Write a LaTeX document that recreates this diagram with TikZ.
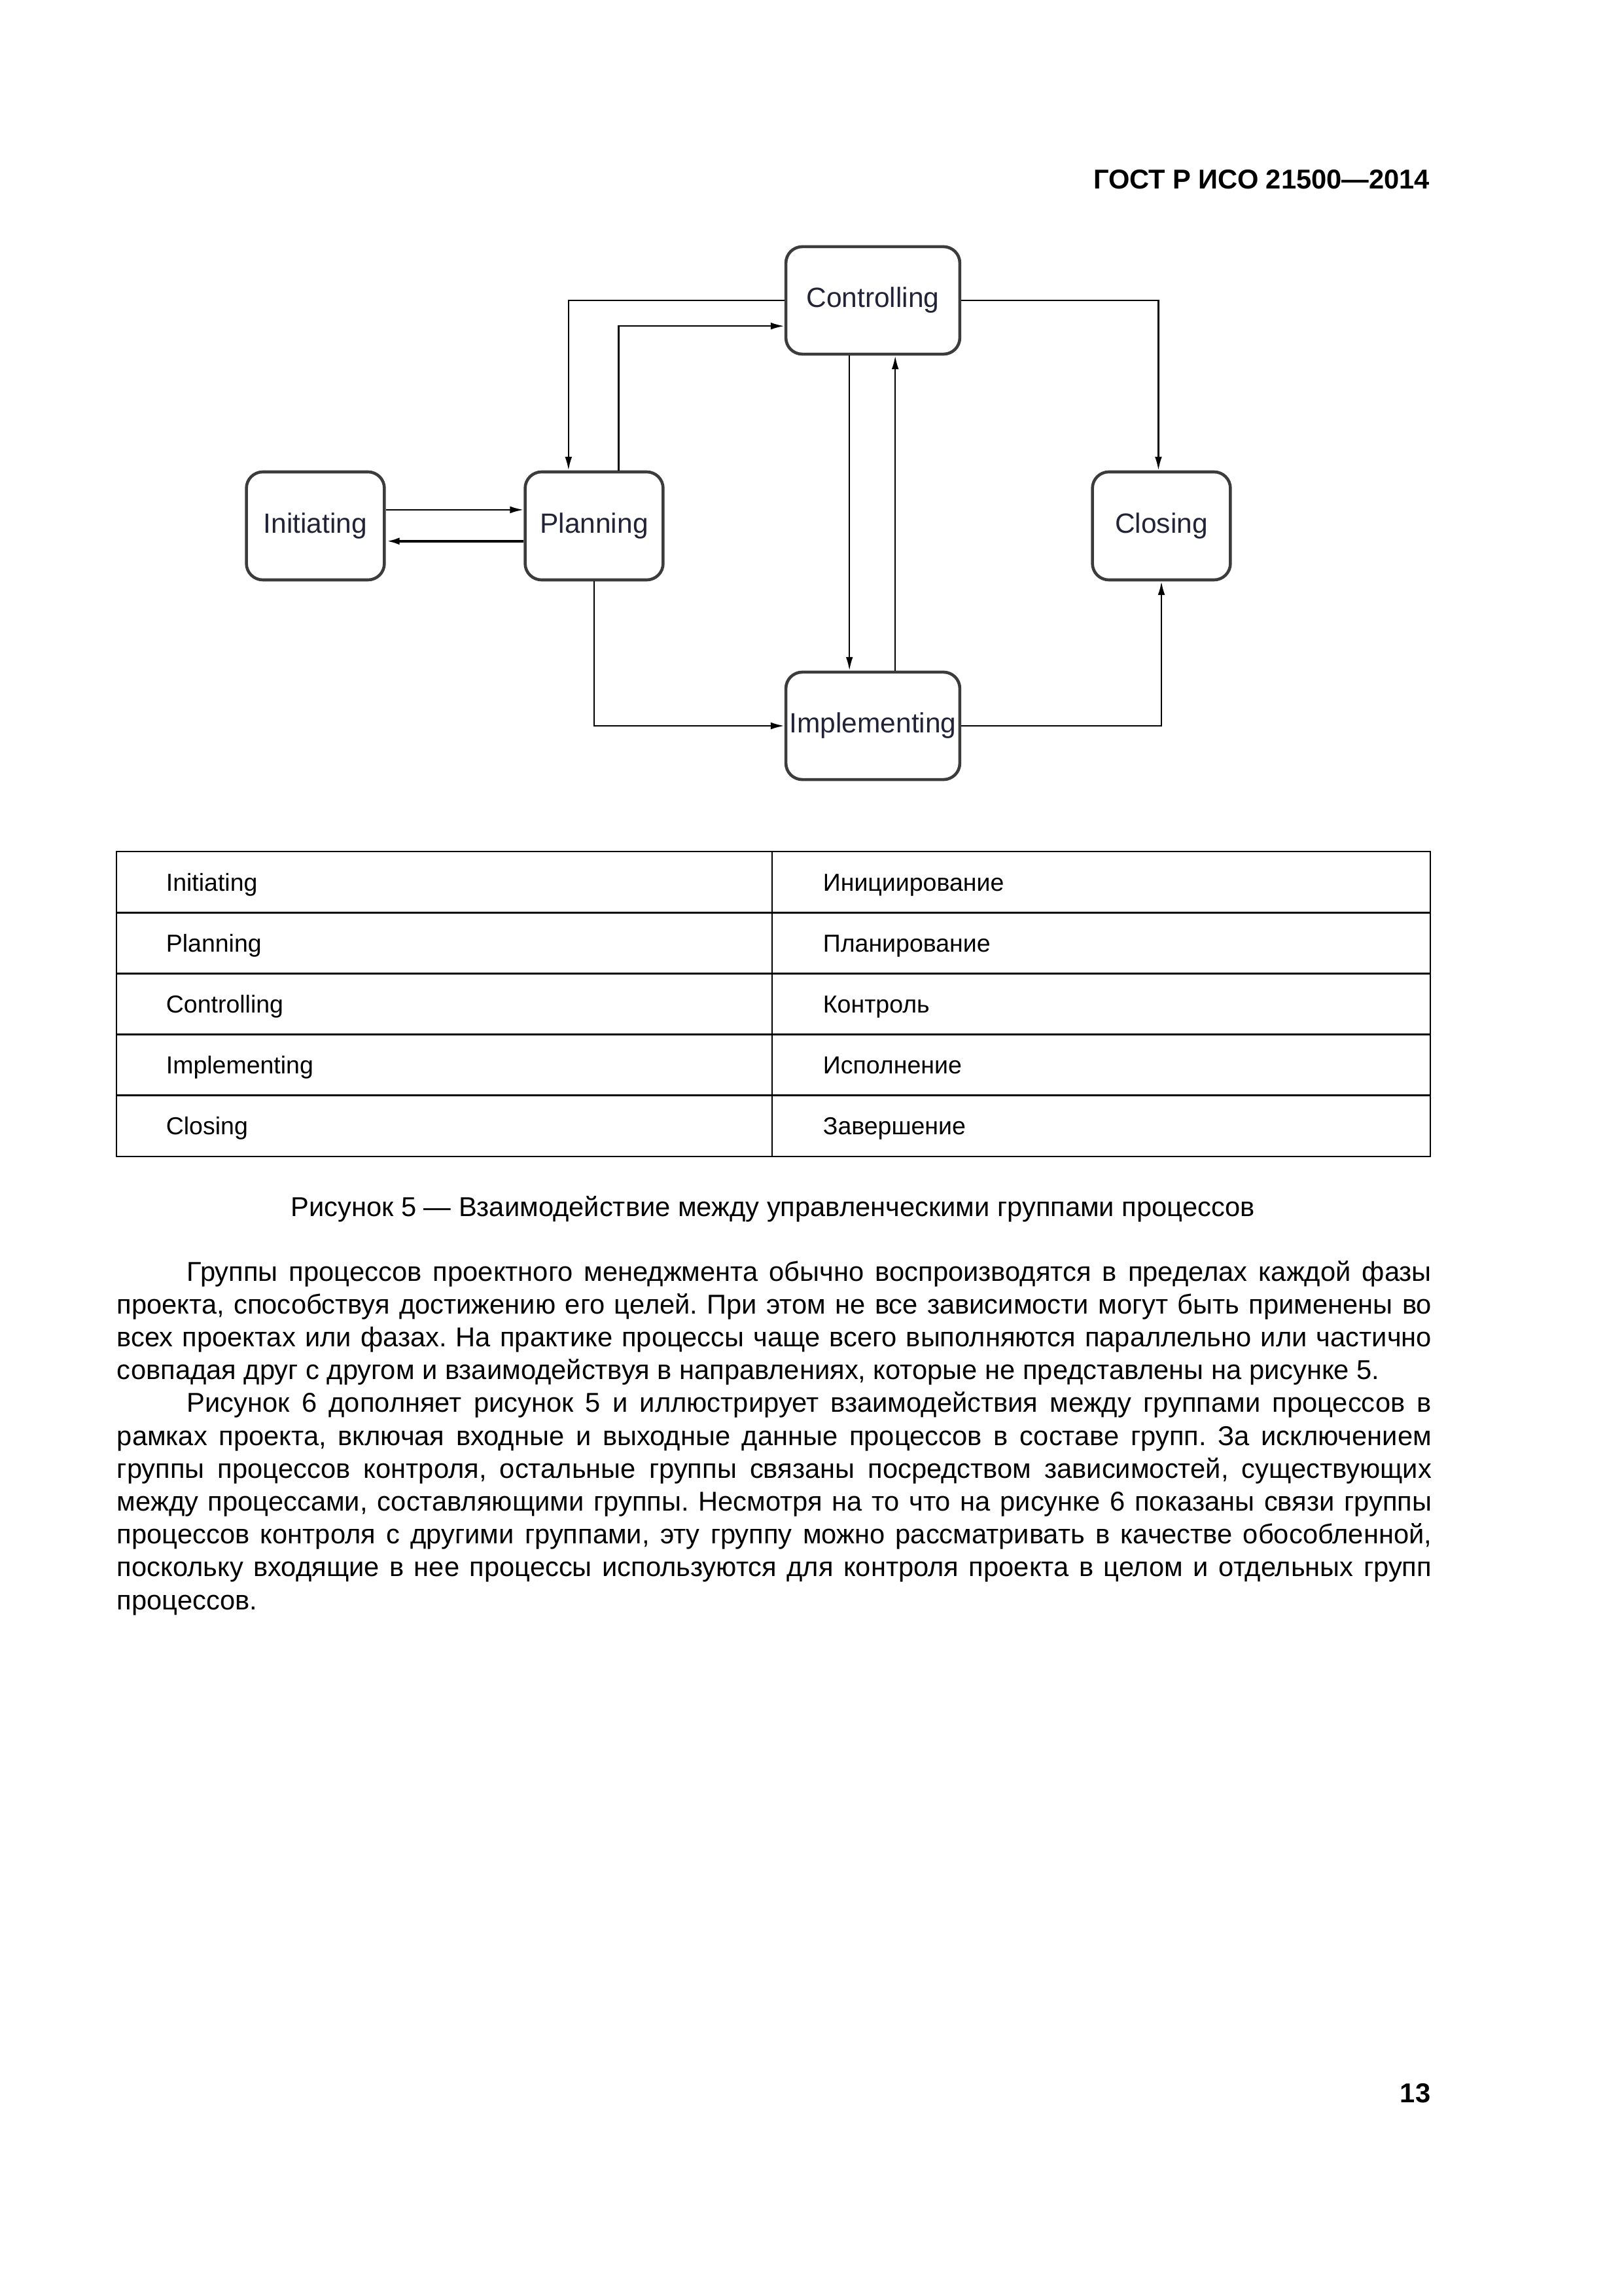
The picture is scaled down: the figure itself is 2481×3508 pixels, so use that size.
\documentclass[tikz,border=0pt]{standalone}
\usepackage{fontspec}
\setmainfont{Liberation Sans}
\usetikzlibrary{arrows.meta}
\definecolor{boxtext}{RGB}{35,35,55}
\definecolor{boxline}{RGB}{60,60,60}
\newcommand\justline[2]{\makebox[#1][s]{#2}}
\frenchspacing
\begin{document}
\begin{tikzpicture}[x=0.24pt,y=-0.24pt,
  procbox/.style={draw=boxline, line width=1.1pt, rounded corners=6pt, rectangle,
     inner sep=0pt, text=boxtext, font=\fontsize{10.2}{12}\selectfont},
  bigbox/.style={procbox, minimum width=63.8pt, minimum height=39.4pt},
  smallbox/.style={procbox, minimum width=50.6pt, minimum height=39.6pt},
  conn/.style={line width=0.6pt, -{Latex[length=5pt,width=2.6pt]}},
  tabtext/.style={anchor=base west, inner sep=0pt, font=\fontsize{9}{11}\selectfont},
  bodytext/.style={anchor=base west, inner sep=0pt, font=\fontsize{10}{12}\selectfont},
  tabline/.style={line width=0.7pt}
]
\fill[white] (0,0) rectangle (2481,3508);
\useasboundingbox (0,0) rectangle (2481,3508);

% header and page number
\node[anchor=base east, inner sep=0pt, font=\fontsize{10}{12}\selectfont\bfseries] (hdr) at (2186,289) {ГОСТ Р ИСО 21500—2014};
\node[anchor=base east, inner sep=0pt, font=\fontsize{10}{12}\selectfont\bfseries] (pgno) at (2187,3212) {13};

% diagram
\node[bigbox] (C) at (1334,459) {Controlling};
\node[bigbox] (Im) at (1334,1109) {Implementing};
\node[smallbox] (I) at (482,803.5) {Initiating};
\node[smallbox] (P) at (908,803.5) {Planning};
\node[smallbox] (Cl) at (1775,803.5) {Closing};

\draw[conn] (C.west) -| ([xshift=-9.4pt]P.north);
\draw[conn] ([xshift=9.0pt]P.north) |- ([yshift=-9.4pt]C.west);
\draw[conn] ([yshift=5.9pt]I.east) -- ([yshift=5.9pt]P.west);
\draw[conn, line width=0.95pt] ([yshift=-5.6pt]P.west) -- ([yshift=-5.6pt]I.east);
\draw[conn] ([xshift=-8.6pt]C.south) -- ([xshift=-8.6pt]Im.north);
\draw[conn] ([xshift=8.2pt]Im.north) -- ([xshift=8.2pt]C.south);
\draw[conn] (C.east) -| ([xshift=-1.1pt]Cl.north);
\draw[conn] (P.south) |- (Im.west);
\draw[conn] (Im.east) -| (Cl.south);

% table
\draw[tabline] (178,1301) rectangle (2186,1767);
\foreach \yy in {1394.2,1487.4,1580.6,1673.8} \draw[tabline] (178,\yy) -- (2186,\yy);
\draw[tabline] (1180,1301) -- (1180,1767);

\node[tabtext] (t1a) at (253,1361) {Initiating};
\node[tabtext] (t1b) at (1257,1361) {Инициирование};
\node[tabtext] (t2a) at (253,1454.2) {Planning};
\node[tabtext] (t2b) at (1257,1454.2) {Планирование};
\node[tabtext] (t3a) at (253,1547.4) {Controlling};
\node[tabtext] (t3b) at (1257,1547.4) {Контроль};
\node[tabtext] (t4a) at (253,1640.6) {Implementing};
\node[tabtext] (t4b) at (1257,1640.6) {Исполнение};
\node[tabtext] (t5a) at (253,1733.8) {Closing};
\node[tabtext] (t5b) at (1257,1733.8) {Завершение};

% caption
\node[anchor=base, inner sep=0pt, font=\fontsize{10}{12}\selectfont] (cap) at (1181,1858) {Рисунок 5 — Взаимодействие между управленческими группами процессов};

% body text
\node[bodytext] (b1) at (285,1957) {\justline{456.5pt}{Группы процессов проектного менеджмента обычно воспроизводятся в пределах каждой фазы}};
\node[bodytext] (b2) at (178,2007.2) {\justline{482.2pt}{проекта, способствуя достижению его целей. При этом не все зависимости могут быть применены во}};
\node[bodytext] (b3) at (178,2057.4) {\justline{482.2pt}{всех проектах или фазах. На практике процессы чаще всего выполняются параллельно или частично}};
\node[bodytext] (b4) at (178,2107.6) {совпадая друг с другом и взаимодействуя в направлениях, которые не представлены на рисунке 5.};
\node[bodytext] (b5) at (285,2157.8) {\justline{456.5pt}{Рисунок 6 дополняет рисунок 5 и иллюстрирует взаимодействия между группами процессов в}};
\node[bodytext] (b6) at (178,2208) {\justline{482.2pt}{рамках проекта, включая входные и выходные данные процессов в составе групп. За исключением}};
\node[bodytext] (b7) at (178,2258.2) {\justline{482.2pt}{группы процессов контроля, остальные группы связаны посредством зависимостей, существующих}};
\node[bodytext] (b8) at (178,2308.4) {\justline{482.2pt}{между процессами, составляющими группы. Несмотря на то что на рисунке 6 показаны связи группы}};
\node[bodytext] (b9) at (178,2358.6) {\justline{482.2pt}{процессов контроля с другими группами, эту группу можно рассматривать в качестве обособленной,}};
\node[bodytext] (b10) at (178,2408.8) {\justline{482.2pt}{поскольку входящие в нее процессы используются для контроля проекта в целом и отдельных групп}};
\node[bodytext] (b11) at (178,2459) {процессов.};
\end{tikzpicture}
\end{document}
